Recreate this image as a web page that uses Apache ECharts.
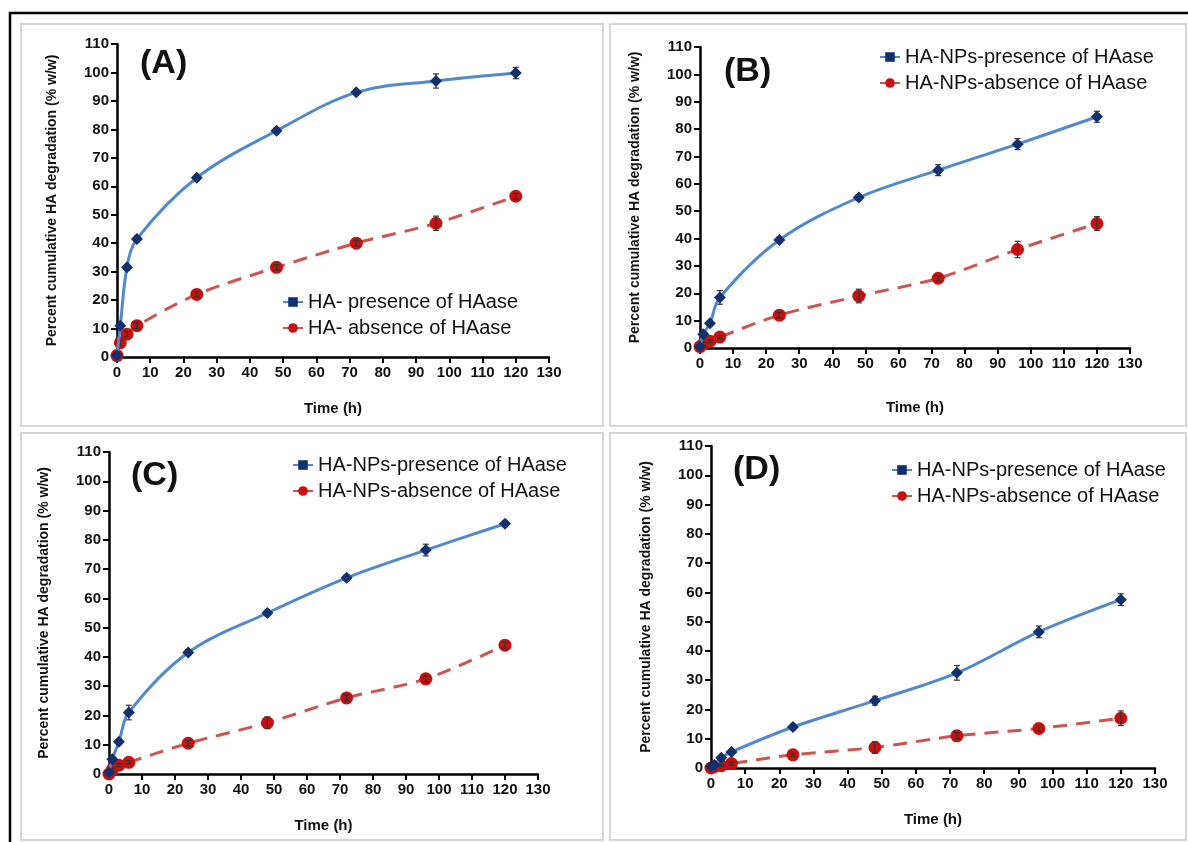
<!DOCTYPE html>
<html>
<head>
<meta charset="utf-8">
<script src="https://cdn.jsdelivr.net/npm/echarts@6/dist/echarts.min.js"></script>
<style>
  html, body { margin: 0; padding: 0; background: #fff; }
  #chart { width: 1188px; height: 842px; }
</style>
</head>
<body>
<div id="chart"></div>
<script>
// sampling times (h)
const hours = [0, 1, 3, 6, 24, 48, 72, 96, 120];
const xTicks = [0, 10, 20, 30, 40, 50, 60, 70, 80, 90, 100, 110, 120, 130];

// (A) free HA
const aPresence = [0.5, 11, 31.5, 41.5, 63, 79.5, 93, 97, 99.8];
const aPresenceErr = [0.5, 1, 1, 1, 1, 1, 0.8, 2.5, 2];
const aAbsence = [0.5, 5, 8, 11, 22, 31.5, 40, 47, 56.5];
const aAbsenceErr = [0.5, 1, 1, 1, 1, 1, 1, 2.5, 1];

// (B)
const bPresence = [0.5, 5, 9, 18.5, 39.5, 55, 65, 74.5, 84.5];
const bPresenceErr = [0.5, 1, 1, 2.5, 1, 1, 2, 2, 2];
const bAbsence = [0.5, 1.5, 2.5, 4, 12, 19, 25.5, 36, 45.5];
const bAbsenceErr = [0.5, 0.5, 0.5, 0.5, 1, 2.5, 1, 3, 2.5];

// (C)
const cPresence = [0.5, 5, 11, 21, 41.5, 55, 67, 76.5, 85.5];
const cPresenceErr = [0.5, 1, 1, 2.5, 1, 1, 1, 2, 1];
const cAbsence = [0, 1.5, 3, 4, 10.5, 17.5, 26, 32.5, 44];
const cAbsenceErr = [0, 0.5, 0.5, 0.5, 1, 2, 1, 1, 1];

// (D)
const dPresence = [0.5, 1, 3.5, 5.5, 14, 23, 32.5, 46.5, 57.5];
const dPresenceErr = [0.5, 0.5, 0.5, 0.5, 1, 1.5, 2.5, 2, 2];
const dAbsence = [0, 0.5, 0.8, 1.5, 4.5, 7, 11, 13.5, 17];
const dAbsenceErr = [0, 0.3, 0.3, 0.5, 0.5, 2, 1, 1, 2.5];

const freeNames = ["HA- presence of HAase", "HA- absence of HAase"];
const npNames = ["HA-NPs-presence of HAase", "HA-NPs-absence of HAase"];

const BLUE = "#5288cc";
const NAVY = "#12306e";
const RED = "#cc5552";
const DARKRED = "#c8100e";
const FONT = "Liberation Sans";

const myChart = echarts.init(document.getElementById("chart"));

function pairs(vals) {
  return hours.map((h, i) => [h, vals[i]]);
}

function errData(vals, errs) {
  return hours.map((h, i) => [h, vals[i] - errs[i], vals[i] + errs[i]]);
}

function errorBars(idx, vals, errs) {
  return {
    type: "custom",
    xAxisIndex: idx,
    yAxisIndex: idx,
    silent: true,
    z: 3,
    data: errData(vals, errs),
    renderItem: function(params, api) {
      const lo = api.coord([api.value(0), api.value(1)]);
      const hi = api.coord([api.value(0), api.value(2)]);
      const w = 3;
      const style = { stroke: "#333", lineWidth: 1.2 };
      return {
        type: "group",
        children: [
          { type: "line", shape: { x1: lo[0], y1: lo[1], x2: hi[0], y2: hi[1] }, style: style },
          { type: "line", shape: { x1: lo[0] - w, y1: lo[1], x2: lo[0] + w, y2: lo[1] }, style: style },
          { type: "line", shape: { x1: hi[0] - w, y1: hi[1], x2: hi[0] + w, y2: hi[1] }, style: style }
        ]
      };
    }
  };
}

function panelSeries(idx, pres, presErr, abs, absErr, names) {
  return [
    // legend-only entries (square / circle key like the original)
    {
      name: names[0], type: "line", xAxisIndex: idx, yAxisIndex: idx, data: [],
      symbol: "rect", symbolSize: 8,
      itemStyle: { color: NAVY },
      lineStyle: { color: BLUE, width: 3 }
    },
    {
      name: names[1], type: "line", xAxisIndex: idx, yAxisIndex: idx, data: [],
      symbol: "circle", symbolSize: 11,
      itemStyle: { color: DARKRED },
      lineStyle: { color: RED, width: 3, type: "dashed" }
    },
    errorBars(idx, abs, absErr),
    {
      type: "line", xAxisIndex: idx, yAxisIndex: idx,
      data: pairs(abs), smooth: 0.3,
      symbol: "circle", symbolSize: 13,
      itemStyle: { color: DARKRED },
      lineStyle: { color: RED, width: 3, type: [14, 9] },
      z: 2
    },
    errorBars(idx, pres, presErr),
    {
      type: "line", xAxisIndex: idx, yAxisIndex: idx,
      data: pairs(pres), smooth: 0.35,
      symbol: "diamond", symbolSize: 12,
      itemStyle: { color: NAVY },
      lineStyle: { color: BLUE, width: 3 },
      z: 4
    }
  ];
}

const grids = [
  { left: 117, top: 44, width: 432, height: 313 },
  { left: 700, top: 47, width: 430, height: 301 },
  { left: 109, top: 452, width: 429, height: 322 },
  { left: 711, top: 446, width: 444, height: 322 }
];

const axisLine = { show: true, onZero: false, lineStyle: { color: "#000", width: 2.5 } };
const axisTick = { show: true, length: 6, lineStyle: { color: "#000", width: 2 } };
const tickLabel = { color: "#111", fontFamily: FONT, fontWeight: "bold", fontSize: 15 };

const xAxes = grids.map((g, i) => ({
  type: "value", gridIndex: i, min: 0, max: 130, interval: 10,
  name: "Time (h)", nameLocation: "middle", nameGap: i === 1 ? 52 : 44,
  nameTextStyle: { color: "#111", fontFamily: FONT, fontWeight: "bold", fontSize: 15 },
  axisLine: axisLine, axisTick: axisTick,
  axisLabel: Object.assign({ margin: 8, showMaxLabel: true, showMinLabel: true,
    formatter: v => (xTicks.indexOf(v) >= 0 ? String(v) : "") }, tickLabel),
  splitLine: { show: false }
}));

const yAxes = grids.map((g, i) => ({
  type: "value", gridIndex: i, min: 0, max: 110, interval: 10,
  name: "Percent cumulative HA degradation (% w/w)", nameLocation: "middle", nameGap: 58,
  nameTextStyle: { color: "#111", fontFamily: FONT, fontWeight: "bold", fontSize: 14 },
  axisLine: axisLine, axisTick: axisTick,
  axisLabel: Object.assign({ margin: 8 }, tickLabel),
  splitLine: { show: false }
}));

const legendPos = [
  { left: 277, top: 287, names: freeNames },
  { left: 874, top: 42, names: npNames },
  { left: 287, top: 450, names: npNames },
  { left: 886, top: 455, names: npNames }
];

const legends = legendPos.map(p => ({
  orient: "vertical", left: p.left, top: p.top,
  data: p.names, itemWidth: 20, itemHeight: 12, itemGap: 6,
  selectedMode: false,
  textStyle: { color: "#111", fontFamily: FONT, fontSize: 20 }
}));

const panelLabels = [
  { text: "(A)", x: 140, y: 47 },
  { text: "(B)", x: 724, y: 55 },
  { text: "(C)", x: 131, y: 459 },
  { text: "(D)", x: 733, y: 453 }
];

const frames = [
  { x: 21, y: 24, w: 582, h: 402 },
  { x: 610, y: 24, w: 576, h: 402 },
  { x: 21, y: 433, w: 582, h: 407 },
  { x: 610, y: 433, w: 576, h: 407 }
];

const graphics = [
  { type: "line", shape: { x1: 9, y1: 13, x2: 1188, y2: 13 }, style: { stroke: "#000", lineWidth: 2.5 } },
  { type: "line", shape: { x1: 10, y1: 12, x2: 10, y2: 842 }, style: { stroke: "#000", lineWidth: 2.5 } }
].concat(frames.map(f => ({
  type: "rect", shape: { x: f.x, y: f.y, width: f.w, height: f.h },
  style: { fill: null, stroke: "#d6d6d6", lineWidth: 2 }, z: -1
}))).concat(panelLabels.map(l => ({
  type: "text", x: l.x, y: l.y,
  style: { text: l.text, fill: "#111", font: "bold 34px 'Liberation Sans'" }
})));

let series = [];
series = series.concat(panelSeries(0, aPresence, aPresenceErr, aAbsence, aAbsenceErr, freeNames));
series = series.concat(panelSeries(1, bPresence, bPresenceErr, bAbsence, bAbsenceErr, npNames));
series = series.concat(panelSeries(2, cPresence, cPresenceErr, cAbsence, cAbsenceErr, npNames));
series = series.concat(panelSeries(3, dPresence, dPresenceErr, dAbsence, dAbsenceErr, npNames));

myChart.setOption({
  animation: false,
  backgroundColor: "#fff",
  grid: grids,
  xAxis: xAxes,
  yAxis: yAxes,
  legend: legends,
  graphic: graphics,
  series: series
});
</script>
</body>
</html>
